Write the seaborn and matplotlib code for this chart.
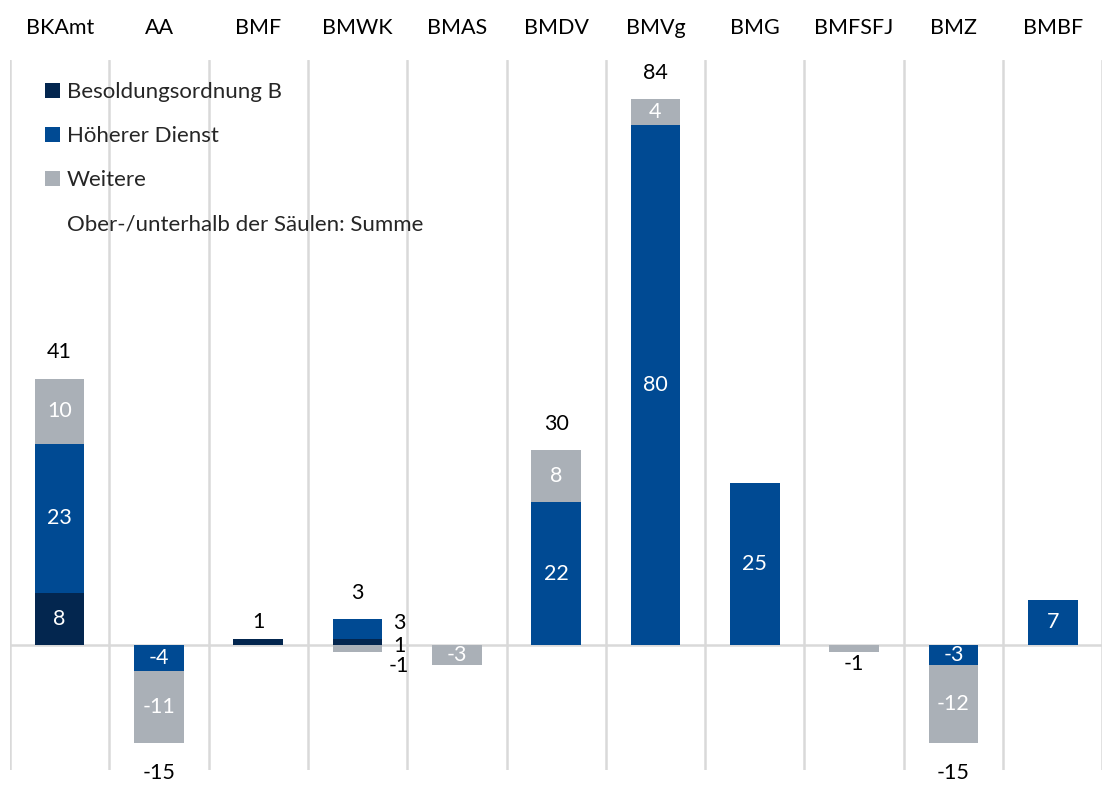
import numpy as np
import pandas as pd
import matplotlib
matplotlib.use("Agg")
import matplotlib.pyplot as plt
import seaborn as sns
from matplotlib.patches import Patch

categories = ["BKAmt", "AA", "BMF", "BMWK", "BMAS", "BMDV", "BMVg", "BMG", "BMFSFJ", "BMZ", "BMBF"]
besoldung_b = [8, 0, 1, 1, 0, 0, 0, 0, 0, 0, 0]
hoeherer_dienst = [23, -4, 0, 3, 0, 22, 80, 25, 0, -3, 7]
weitere = [10, -11, 0, -1, -3, 8, 4, 0, -1, -12, 0]
series_names = ["Besoldungsordnung B", "Höherer Dienst", "Weitere"]
show_sum = [True, True, True, True, False, True, True, False, True, True, False]
colors = ["#03264F", "#004A93", "#AAB0B7"]

sns.set_theme(style="white")
plt.rcParams["font.family"] = ["Lato", "DejaVu Sans"]

FS = 15.5

fig = plt.figure(figsize=(11.09, 7.91), dpi=100)
ax = fig.add_axes([0.009, 0.0265, 0.985, 0.8975])

series = [besoldung_b, hoeherer_dienst, weitere]
pos_base = np.zeros(len(categories))
neg_base = np.zeros(len(categories))
segments = []
for name, vals, col in zip(series_names, series, colors):
    vals = np.array(vals, dtype=float)
    bottoms = np.where(vals >= 0, pos_base, neg_base)
    df = pd.DataFrame({"cat": categories, "val": vals})
    sns.barplot(data=df, x="cat", y="val", order=categories, color=col,
                width=0.5, bottom=bottoms, ax=ax, saturation=1, errorbar=None,
                edgecolor="none", linewidth=0)
    segments.append((vals, bottoms))
    pos_base = pos_base + np.where(vals > 0, vals, 0)
    neg_base = neg_base + np.where(vals < 0, vals, 0)

ax.set_xlim(-0.5, len(categories) - 0.5)
ax.set_ylim(-19.2, 90)

# inside labels
for si, (vals, bottoms) in enumerate(segments):
    for i, v in enumerate(vals):
        if v == 0 or categories[i] == "BMWK" or abs(v) < 3:
            continue
        ax.text(i, bottoms[i] + v / 2, f"{int(v)}", color="white", ha="center",
                va="center", fontsize=FS)

# BMWK small labels to the right
iw = categories.index("BMWK")
ax.annotate(f"{hoeherer_dienst[iw]}", (iw + 0.42, hoeherer_dienst[iw] / 2 + besoldung_b[iw]),
            xytext=(0, 4), textcoords="offset points",
            ha="center", va="center", fontsize=FS, color="black")
ax.annotate(f"{besoldung_b[iw]}", (iw + 0.42, besoldung_b[iw] / 2),
            xytext=(0, -3), textcoords="offset points",
            ha="center", va="center", fontsize=FS, color="black")
ax.annotate(f"{weitere[iw]}", (iw + 0.42, weitere[iw]), xytext=(0, -10), textcoords="offset points",
            ha="center", va="center", fontsize=FS, color="black")

# sums
for i in range(len(categories)):
    if not show_sum[i]:
        continue
    total = besoldung_b[i] + hoeherer_dienst[i] + weitere[i]
    small = abs(total) <= 1
    if total >= 0:
        ax.annotate(f"{total}", (i, pos_base[i]), xytext=(0, 12 if small else 19),
                    textcoords="offset points", ha="center", va="center", fontsize=FS, color="black")
    else:
        ax.annotate(f"{total}", (i, neg_base[i]), xytext=(0, -9 if small else -22),
                    textcoords="offset points", ha="center", va="center", fontsize=FS, color="black")

# grid lines
for k in range(len(categories) + 1):
    ax.axvline(k - 0.5, color="#D9D9D9", lw=1.8, zorder=0)
ax.axhline(0, color="#D9D9D9", lw=1.8, zorder=0)

for s in ax.spines.values():
    s.set_visible(False)
ax.set_yticks([])
ax.set_xlabel("")
ax.set_ylabel("")
ax.xaxis.tick_top()
ax.tick_params(axis="x", length=0, pad=16, labelsize=FS, labelcolor="black")

handles = [Patch(facecolor=c, edgecolor="none") for c in colors]
handles.append(Patch(facecolor="none", edgecolor="none"))
labels = series_names + ["Ober-/unterhalb der Säulen: Summe"]
leg = ax.legend(handles, labels, loc="upper left", bbox_to_anchor=(0.024, 0.981),
                frameon=False, fontsize=16, handlelength=0.68, handleheight=0.68,
                handletextpad=0.3, labelspacing=1.08, borderaxespad=0)

fig.savefig("out.png", dpi=100, facecolor="white")
